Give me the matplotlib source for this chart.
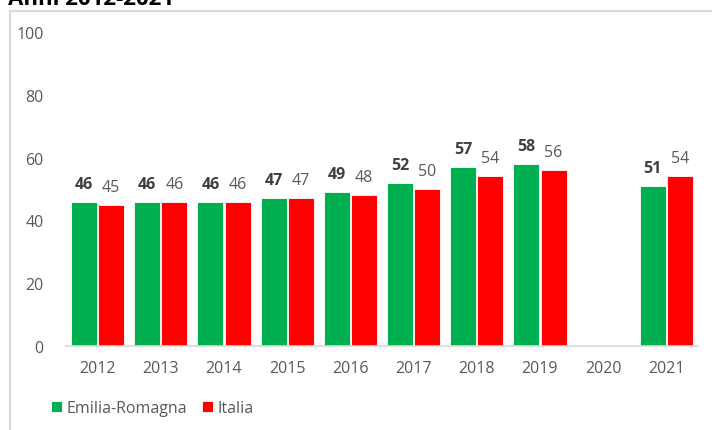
import matplotlib.pyplot as plt
import matplotlib.patches as patches
import numpy as np

anni = ["2012", "2013", "2014", "2015", "2016", "2017", "2018", "2019", "2020", "2021"]
emilia_romagna = [46, 46, 46, 47, 49, 52, 57, 58, np.nan, 51]
italia = [45, 46, 46, 47, 48, 50, 54, 56, np.nan, 54]

verde = "#00B050"
rosso = "#FF0000"
grigio = "#595959"

plt.rcParams["font.family"] = ["Open Sans", "DejaVu Sans"]

fig = plt.figure(figsize=(7.12, 4.31), dpi=100)
ax = fig.add_axes([66 / 712, 1 - 347 / 431, 632 / 712, 314 / 431])

# cornice del grafico (tagliata a destra e in basso)
fig.patches.append(patches.Rectangle((10 / 712, -0.1), 1.2, 1 - 12 / 431 + 0.1,
                                     transform=fig.transFigure, fill=False,
                                     edgecolor="#D9D9D9", linewidth=1.6))

fig.text(8 / 712, 1 - 5 / 431, "Anni 2012-2021", fontsize=16, fontweight="bold",
         color="black", va="baseline", ha="left")

x = np.arange(len(anni))
w = 0.41
b1 = ax.bar(x - w / 2 - 0.01, emilia_romagna, w, color=verde, edgecolor="white",
            linewidth=0.6, label="Emilia-Romagna")
b2 = ax.bar(x + w / 2 + 0.01, italia, w, color=rosso, edgecolor="white",
            linewidth=0.6, label="Italia")

for i in range(len(anni)):
    if not np.isnan(emilia_romagna[i]):
        ax.annotate(f"{emilia_romagna[i]:.0f}", (x[i] - w / 2 - 0.01, emilia_romagna[i]),
                    xytext=(0, 13), textcoords="offset points", ha="center", va="center",
                    fontsize=11.5, fontweight="bold", color="#404040")
    if not np.isnan(italia[i]):
        ax.annotate(f"{italia[i]:.0f}", (x[i] + w / 2 + 0.01, italia[i]),
                    xytext=(0, 13), textcoords="offset points", ha="center", va="center",
                    fontsize=11.5, color=grigio)

ax.set_xlim(-0.5, len(anni) - 0.5)
ax.set_ylim(0, 100)
ax.set_yticks([0, 20, 40, 60, 80, 100])
ax.set_xticks(x)
ax.set_xticklabels(anni)
ax.tick_params(axis="both", length=0, labelsize=11.5, labelcolor=grigio)
ax.tick_params(axis="y", pad=16)
ax.tick_params(axis="x", pad=10)

for s in ["top", "right", "left"]:
    ax.spines[s].set_visible(False)
ax.spines["bottom"].set_color("#D9D9D9")
ax.spines["bottom"].set_linewidth(1.2)

ax.legend(loc="lower left", bbox_to_anchor=(51 / 712, 14 / 431), bbox_transform=fig.transFigure,
          ncol=2, frameon=False, fontsize=11.5, labelcolor=grigio, handlelength=0.7,
          handleheight=0.7, handletextpad=0.3, columnspacing=0.9, borderpad=0, borderaxespad=0)

fig.savefig("out.png", dpi=100)
